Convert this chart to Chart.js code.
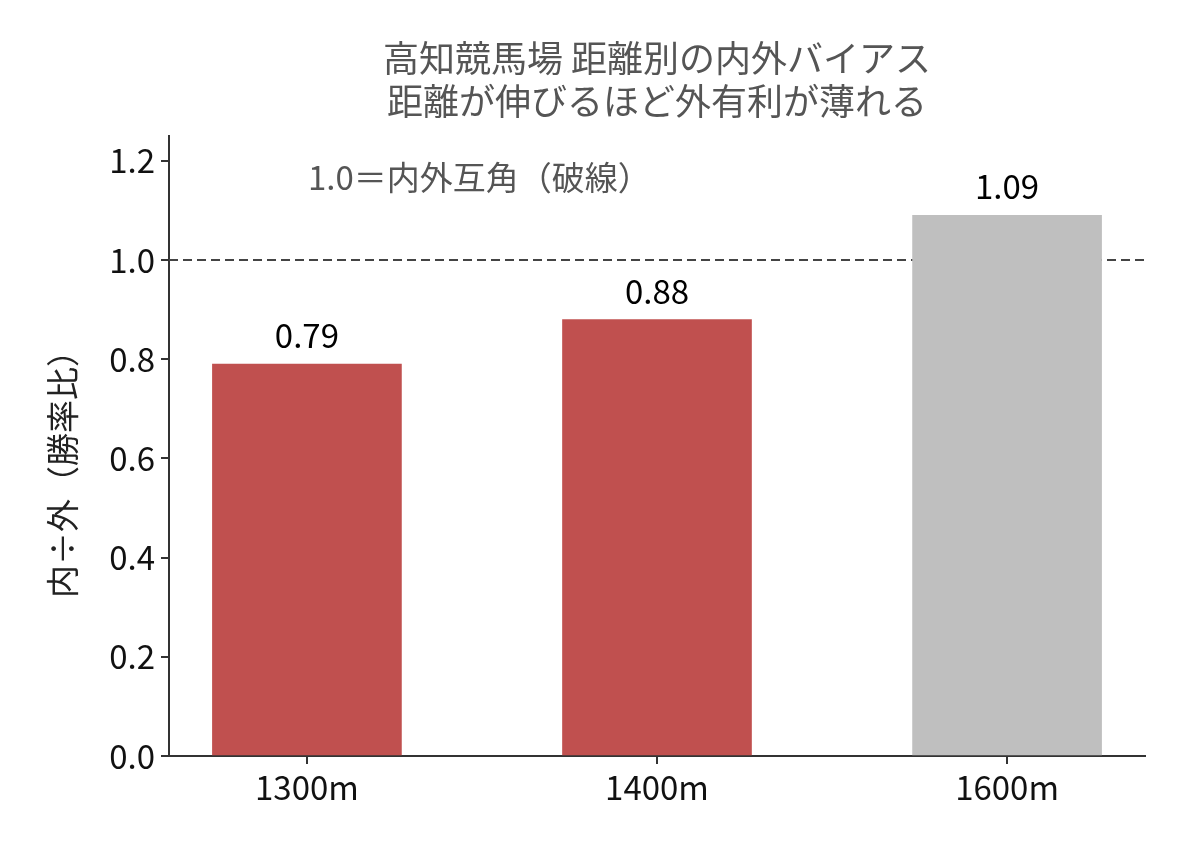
<!DOCTYPE html>
<html><head><meta charset="utf-8">
<script src="https://cdn.jsdelivr.net/npm/chart.js@4/dist/chart.umd.min.js"></script>
<style>html,body{margin:0;padding:0;background:#fff}#w{width:1188px;height:858px}</style>
</head><body><div id="w"><canvas id="c"></canvas></div>
<script>
const categories = ["1300m","1400m","1600m"];
const ratios = [0.79, 0.88, 1.09];
const barColors = ["#c0504f","#c0504f","#bfbfbf"];
const yTicks = [0,0.2,0.4,0.6,0.8,1.0,1.2];
const refLine = 1.0;
const titleLines = ["高知競馬場 距離別の内外バイアス","距離が伸びるほど外有利が薄れる"];
const note = "1.0＝内外互角（破線）";
const F = '"Noto Sans CJK JP","Noto Sans",sans-serif';

const deco = {
  id:'deco',
  beforeDatasetsDraw(ch){
    const {ctx, scales:{x,y}, chartArea:a} = ch;
    ctx.save();
    ctx.strokeStyle='#444'; ctx.lineWidth=2; ctx.setLineDash([9,5]);
    const yy=y.getPixelForValue(refLine);
    ctx.beginPath(); ctx.moveTo(a.left,yy); ctx.lineTo(a.right,yy); ctx.stroke();
    ctx.restore();
  },
  afterDatasetsDraw(ch){
    const {ctx, scales:{x,y}} = ch;
    ctx.save();
    ctx.font='33px '+F; ctx.fillStyle='#000'; ctx.textAlign='center'; ctx.textBaseline='alphabetic';
    ratios.forEach((v,i)=>ctx.fillText(v.toFixed(2), x.getPixelForValue(i), y.getPixelForValue(v)-16));
    ctx.fillStyle='#555'; ctx.font='36px '+F;
    ctx.fillText(titleLines[0], 657, 72);
    ctx.fillText(titleLines[1], 657, 115);
    ctx.font='33px '+F; ctx.textAlign='left';
    ctx.fillText(note, 308, 190);
    ctx.fillStyle='#222'; ctx.font='33px '+F; ctx.textAlign='center';
    ctx.translate(64, 466); ctx.rotate(-Math.PI/2);
    ctx.fillText("内÷外（勝率比）",0,11);
    ctx.restore();
  }
};

new Chart(document.getElementById('c'),{
  type:'bar',
  data:{datasets:[{data:ratios.map((v,i)=>({x:i,y:v})), backgroundColor:barColors, barThickness:189}]},
  options:{
    responsive:true, maintainAspectRatio:false, animation:false, devicePixelRatio:1,
    layout:{padding:{left:0,right:43,top:136,bottom:0}},
    plugins:{legend:{display:false},tooltip:{enabled:false}},
    scales:{
      x:{type:'linear',min:-0.394,max:2.394,offset:false,
        afterBuildTicks(s){s.ticks=categories.map((c,i)=>({value:i}));},
        afterFit(s){s.height=102;},
        ticks:{callback:(v)=>categories[v]??'',color:'#111',font:{size:33,family:F},padding:4,maxRotation:0,autoSkip:false},
        grid:{drawOnChartArea:false,offset:false,tickLength:8,color:'#333',lineWidth:2},
        border:{color:'#333',width:2}},
      y:{min:0,max:1.25,
        afterBuildTicks(s){s.ticks=yTicks.map(v=>({value:v}));},
        afterFit(s){s.width=169;},
        ticks:{callback:(v)=>v.toFixed(1),color:'#111',font:{size:33,family:F},padding:6},
        grid:{drawOnChartArea:false,tickLength:8,color:'#333',lineWidth:2},
        border:{color:'#333',width:2}}
    }
  },
  plugins:[deco]
});
</script></body></html>
